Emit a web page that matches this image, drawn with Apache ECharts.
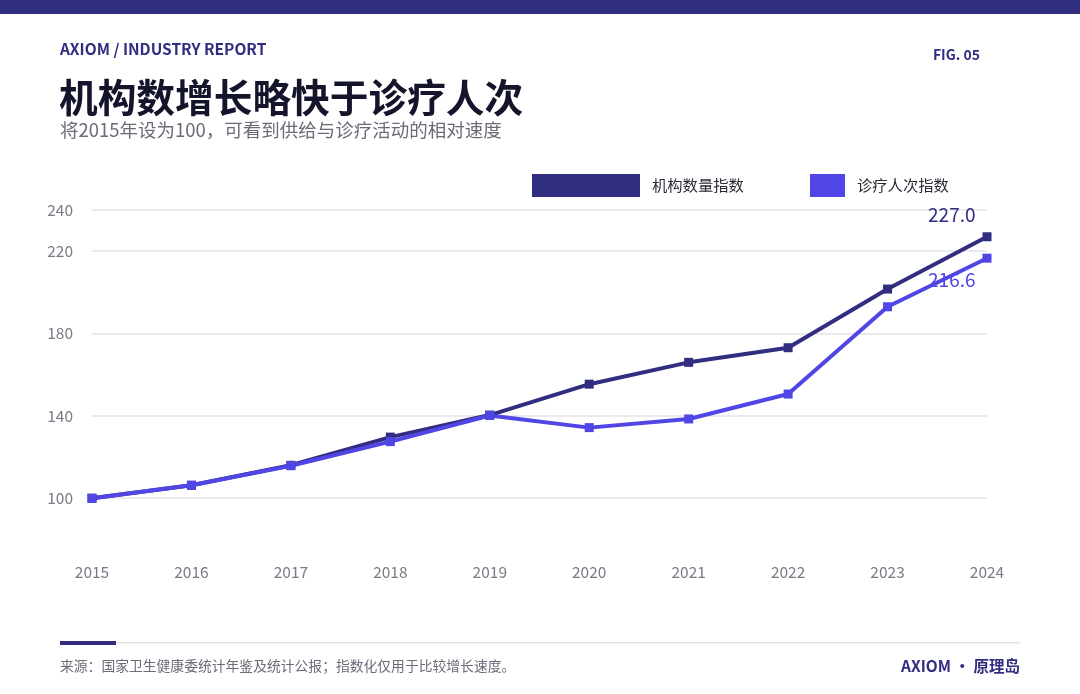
<!DOCTYPE html>
<html><head><meta charset="utf-8">
<style>html,body{margin:0;padding:0;background:#fff}#c{width:1080px;height:694px}</style>
<script src="https://cdn.jsdelivr.net/npm/echarts@6/dist/echarts.min.js"></script>
</head><body><div id="c"></div>
<script>
const categories = ['2015','2016','2017','2018','2019','2020','2021','2022','2023','2024'];
const institutionIndex = [100, 106.3, 116.0, 129.7, 140.4, 155.4, 166.0, 173.1, 201.6, 227.0];
const visitIndex = [100, 106.3, 115.8, 127.5, 140.2, 134.3, 138.5, 150.6, 193.0, 216.6];
const yTickValues = [100, 140, 180, 220, 240];
const seriesNames = ['机构数量指数', '诊疗人次指数'];

const DARK = '#312e81', LIGHT = '#4f46e5';
const FONT = '"Noto Sans CJK SC", "Noto Sans", sans-serif';

function withLastLabel(arr, color, offset) {
  return arr.map((v, i) => i === arr.length - 1 ? {
    value: v,
    label: { show: true, position: 'left', distance: 7, offset: offset, color: color, fontSize: 19, fontFamily: FONT,
      formatter: p => Number(p.value).toFixed(1) }
  } : v);
}

const chart = echarts.init(document.getElementById('c'), null, { renderer: 'canvas' });
chart.setOption({
  backgroundColor: '#fff',
  animation: false,
  textStyle: { fontFamily: FONT },
  title: [
    { text: 'AXIOM / INDUSTRY REPORT', left: 60, top: 41, padding: 0, textStyle: { fontSize: 15.5, fontWeight: 'bold', color: DARK, fontFamily: FONT } },
    { text: 'FIG. 05', right: 100, top: 48, padding: 0, textStyle: { fontSize: 14, fontWeight: 'bold', color: DARK, fontFamily: FONT } },
    { text: '机构数增长略快于诊疗人次', left: 59, top: 78, padding: 0, textStyle: { fontSize: 38.7, fontWeight: 'bold', color: '#14142b', fontFamily: FONT } },
    { text: '将2015年设为100，可看到供给与诊疗活动的相对速度', left: 60, top: 121, padding: 0, textStyle: { fontSize: 18.5, fontWeight: 'normal', color: '#6b6b78', fontFamily: FONT } },
    { text: '来源：国家卫生健康委统计年鉴及统计公报；指数化仅用于比较增长速度。', left: 60, top: 659, padding: 0, textStyle: { fontSize: 13.8, fontWeight: 'normal', color: '#6b6b78', fontFamily: FONT } },
    { text: 'AXIOM · 原理岛', right: 60, top: 658, padding: 0, textStyle: { fontSize: 15.5, fontWeight: 'bold', color: DARK, fontFamily: FONT } }
  ],
  graphic: [
    { type: 'rect', shape: { x: 0, y: 0, width: 1080, height: 14 }, style: { fill: DARK } },
    { type: 'rect', shape: { x: 60, y: 642, width: 960, height: 1.5 }, style: { fill: '#e3e3ea' } },
    { type: 'rect', shape: { x: 60, y: 641, width: 56, height: 4 }, style: { fill: DARK } }
  ],
  legend: [
    { data: [seriesNames[0]], left: 532, top: 174, padding: 0, itemWidth: 108, itemHeight: 23, itemGap: 10, icon: 'rect',
      textStyle: { fontSize: 15.3, color: '#2a2a35', fontFamily: FONT, padding: [0, 0, 0, 7] } },
    { data: [seriesNames[1]], left: 810, top: 174, padding: 0, itemWidth: 35, itemHeight: 23, icon: 'rect',
      textStyle: { fontSize: 15.3, color: '#2a2a35', fontFamily: FONT, padding: [0, 0, 0, 7] } }
  ],
  grid: { left: 92, right: 93, top: 210, bottom: 134, containLabel: false },
  xAxis: {
    type: 'category', data: categories, boundaryGap: false,
    axisLine: { show: false }, axisTick: { show: false },
    axisLabel: { color: '#7a7a86', fontSize: 15.5, margin: 4, fontFamily: FONT },
    splitLine: { show: false }
  },
  yAxis: {
    type: 'value', min: 70, max: 240,
    axisLine: { show: false },
    axisTick: { show: false, customValues: yTickValues },
    axisLabel: { color: '#7a7a86', fontSize: 15.5, margin: 19, fontFamily: FONT, customValues: yTickValues },
    splitLine: { show: true, lineStyle: { color: '#e3e3ea', width: 1.5 } }
  },
  series: [
    { name: seriesNames[0], type: 'line', data: withLastLabel(institutionIndex, DARK, [0, -22]),
      symbol: 'rect', symbolSize: 9, showAllSymbol: true,
      lineStyle: { color: DARK, width: 4 }, itemStyle: { color: DARK } },
    { name: seriesNames[1], type: 'line', data: withLastLabel(visitIndex, LIGHT, [0, 22]),
      symbol: 'rect', symbolSize: 9, showAllSymbol: true,
      lineStyle: { color: LIGHT, width: 4 }, itemStyle: { color: LIGHT } }
  ]
});
</script></body></html>
